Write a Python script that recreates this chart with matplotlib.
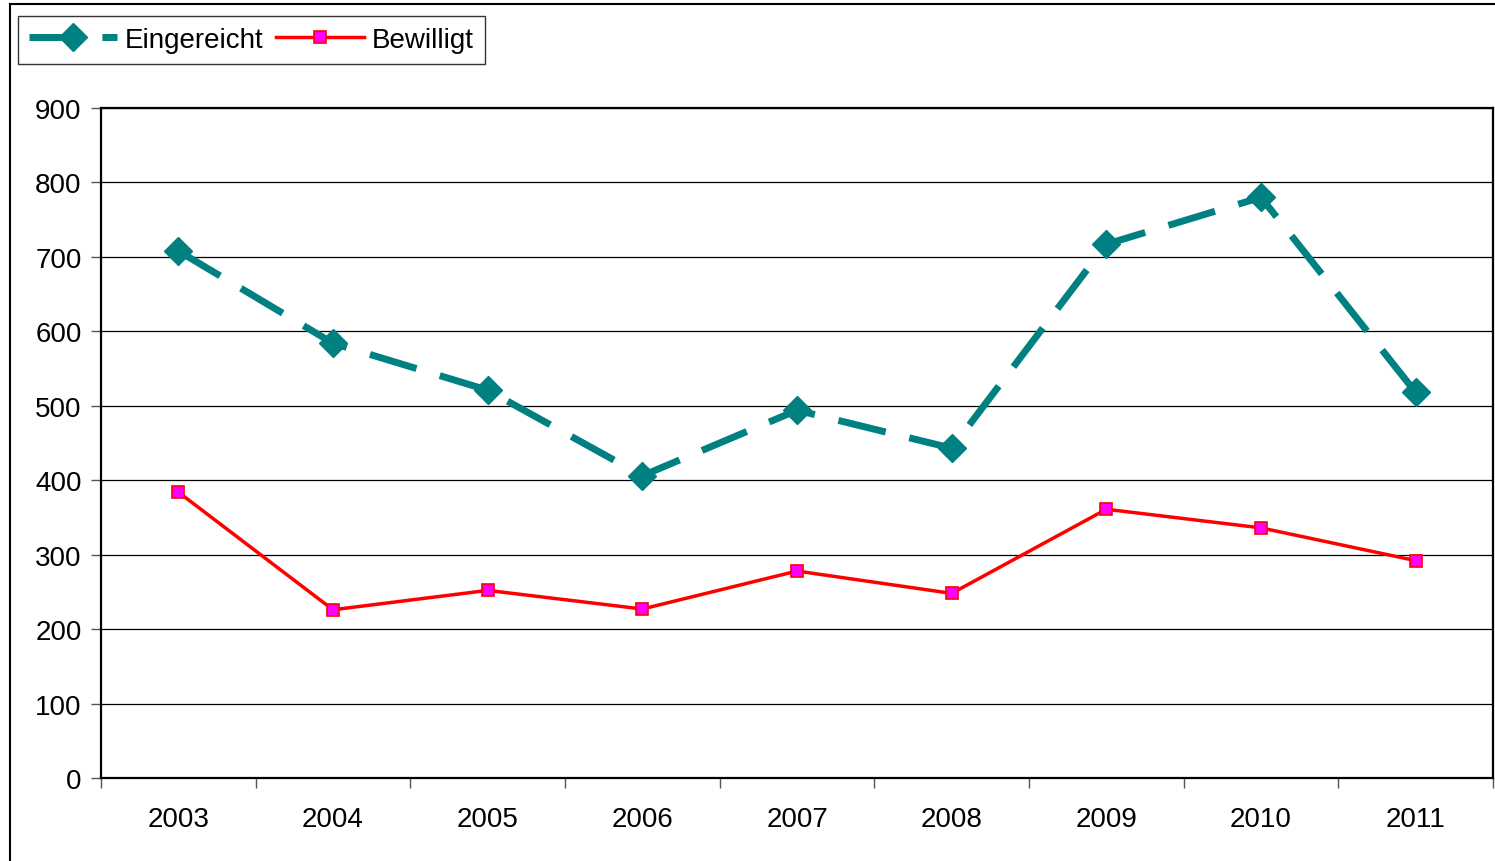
import numpy as np
import matplotlib
matplotlib.use("Agg")
import matplotlib.pyplot as plt
from matplotlib.lines import Line2D

years = ["2003", "2004", "2005", "2006", "2007", "2008", "2009", "2010", "2011"]
eingereicht = [708, 584, 521, 406, 494, 443, 717, 780, 518]
bewilligt = [384, 226, 252, 227, 278, 248, 361, 336, 292]

plt.rcParams["font.family"] = ["Liberation Sans", "DejaVu Sans"]

W, H = 1495, 862
fig = plt.figure(figsize=(W / 100, H / 100), dpi=100)
ax = fig.add_axes([101 / W, (H - 779) / H, (1493 - 101) / W, (779 - 109) / H])

x = np.arange(len(years))
ax.plot(x, eingereicht, color="#008080", lw=5, dashes=(7, 3.5),
        marker="D", markersize=14, label="Eingereicht")
ax.plot(x, bewilligt, color="#FF0000", lw=2.5,
        marker="s", markersize=8, markerfacecolor="#FF00FF",
        markeredgecolor="#FF0000", markeredgewidth=1.2, label="Bewilligt")

ax.set_xlim(-0.5, len(years) - 0.5)
ax.set_ylim(0, 900)
ax.set_yticks(np.arange(0, 901, 100))
ax.yaxis.grid(True, color="black", lw=0.9)
ax.set_axisbelow(True)

ax.set_xticks(x, years)
ax.set_xticks(np.arange(-0.5, len(years)), minor=True)
ax.tick_params(axis="x", which="major", length=0, pad=20, labelsize=20)
ax.tick_params(axis="x", which="minor", length=7, width=1, color="#555555", direction="out")
ax.tick_params(axis="y", length=7, width=1, color="#555555", pad=7, labelsize=20)

for s in ax.spines.values():
    s.set_color("black")
    s.set_linewidth(1.6)

# outer chart border (top and left visible)
fig.add_artist(Line2D([10 / W, 1], [1 - 5 / H, 1 - 5 / H], color="black", lw=1.5))
fig.add_artist(Line2D([10 / W, 10 / W], [0, 1 - 5 / H], color="black", lw=1.5))

leg = fig.legend(loc="upper left", bbox_to_anchor=(18 / W, 1 - 17 / H), ncol=2,
                 frameon=True, fancybox=False, fontsize=20, handlelength=3.15,
                 handletextpad=0.3, columnspacing=0.45, borderpad=0.4,
                 borderaxespad=0)
leg.get_frame().set_edgecolor("black")
leg.get_frame().set_linewidth(1.0)

fig.savefig("out.png", dpi=100)
